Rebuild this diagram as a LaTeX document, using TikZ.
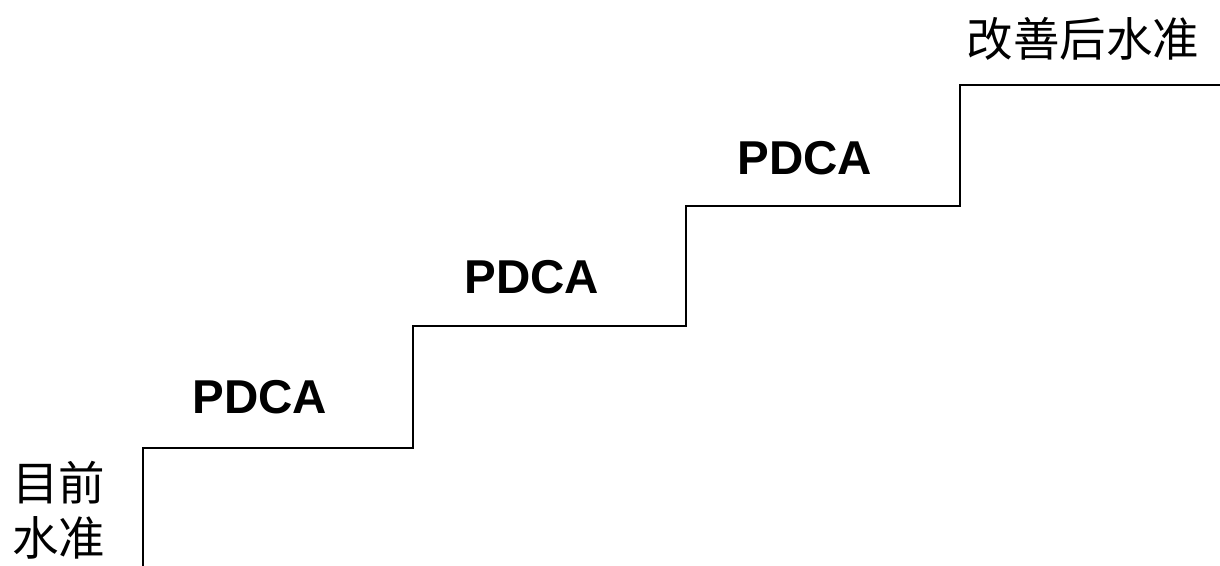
\documentclass[tikz,border=0pt]{standalone}
\usepackage{fontspec}
\setmainfont{Liberation Sans}
\newfontfamily\cjk{Noto Sans CJK SC}
\begin{document}
\begin{tikzpicture}[x=1pt,y=-1pt,
  stair/.style={draw=black,line width=2pt,line join=miter},
  pdca/.style={font=\fontsize{47.5}{50}\selectfont\bfseries,inner sep=0pt},
  cjklabel/.style={font=\cjk\fontsize{46.5}{55}\selectfont,inner sep=0pt,align=center}]
\useasboundingbox (0,0) rectangle (1220,565);
\coordinate (s0) at (143,566);
\coordinate (s1) at (143,448);
\coordinate (s2) at (413,448);
\coordinate (s3) at (413,326);
\coordinate (s4) at (686,326);
\coordinate (s5) at (686,206);
\coordinate (s6) at (960,206);
\coordinate (s7) at (960,85);
\coordinate (s8) at (1221,85);
\draw[stair] (s0) -- (s1) -- (s2) -- (s3) -- (s4) -- (s5) -- (s6) -- (s7) -- (s8);
\node[pdca] (p1) at (260,397) {PDCA};
\node[pdca] (p2) at (532,277) {PDCA};
\node[pdca] (p3) at (805,158) {PDCA};
\node[cjklabel] (cur) at (59,510) {目前\\水准};
\node[cjklabel] (tgt) at (1083,39) {改善后水准};
\end{tikzpicture}
\end{document}
